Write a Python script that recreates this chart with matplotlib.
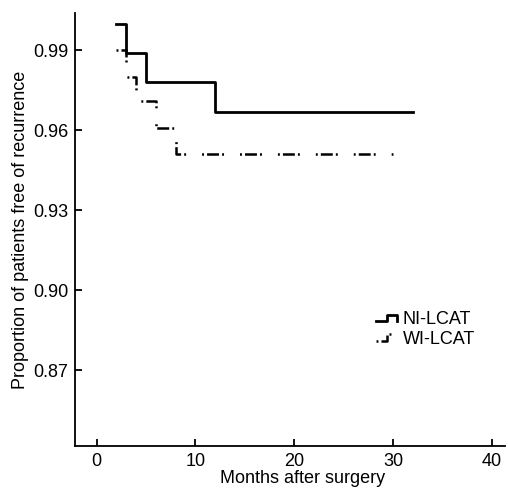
import numpy as np
import matplotlib
matplotlib.use("Agg")
import matplotlib.pyplot as plt
from matplotlib.lines import Line2D
from matplotlib.legend_handler import HandlerBase

plt.rcParams['font.family'] = ['Liberation Sans', 'DejaVu Sans']
plt.rcParams['lines.scale_dashes'] = False

# Data
ni_months = [2, 3, 5, 12, 32]
ni_surv = [1.000, 0.989, 0.978, 0.967, 0.967]
wi_months = [2, 3, 4, 6, 8, 30]
wi_surv = [0.990, 0.980, 0.971, 0.961, 0.951, 0.951]
series_labels = ["NI-LCAT", "WI-LCAT"]
x_ticks = [0, 10, 20, 30, 40]
y_ticks = [0.87, 0.90, 0.93, 0.96, 0.99]

dashdot = (0, (1.4, 2.2, 8.6, 2.2, 1.4, 11.5))
FS = 13

fig = plt.figure(figsize=(5.08, 4.88), dpi=100)
ax = fig.add_axes([75/508, 1-446/488, (505-75)/508, (446-13)/488])

l1, = ax.step(ni_months, ni_surv, where='post', color='black', lw=2.0, label=series_labels[0])
l2, = ax.step(wi_months, wi_surv, where='post', color='black', lw=1.8, linestyle=dashdot, label=series_labels[1])

ax.set_xlim(-2.2, 41.35)
ax.set_ylim(0.8415, 1.004)
ax.set_xticks(x_ticks)
ax.set_yticks(y_ticks)
ax.set_yticklabels([f"{v:.2f}" for v in y_ticks])
ax.tick_params(direction='in', length=5, width=1.3, labelsize=FS, pad=5)
for s in ['top', 'right']:
    ax.spines[s].set_visible(False)
for s in ['left', 'bottom']:
    ax.spines[s].set_linewidth(1.3)

ax.set_xlabel("Months after surgery", fontsize=FS, labelpad=0)
ax.xaxis.label.set_x(0.53)
ax.set_ylabel("Proportion of patients free of recurrence", fontsize=FS, labelpad=3)


class StepHandler(HandlerBase):
    def create_artists(self, legend, orig_handle, xdescent, ydescent, width, height, fontsize, trans):
        x = np.array([0.0, 0.5, 0.5, 0.95, 0.95]) * width - xdescent
        y = np.array([0.2, 0.2, 0.75, 0.75, 0.2]) * height - ydescent
        line = Line2D(x, y)
        line.update_from(orig_handle)
        line.set_transform(trans)
        return [line]


leg = fig.legend(handles=[l1, l2], loc='upper left', bbox_to_anchor=(376/508, 1-311/488),
                 frameon=False, fontsize=FS, handlelength=1.2, handletextpad=0.28,
                 borderpad=0, borderaxespad=0, labelspacing=0.15,
                 handler_map={Line2D: StepHandler()})

fig.savefig("out.png", dpi=100)
